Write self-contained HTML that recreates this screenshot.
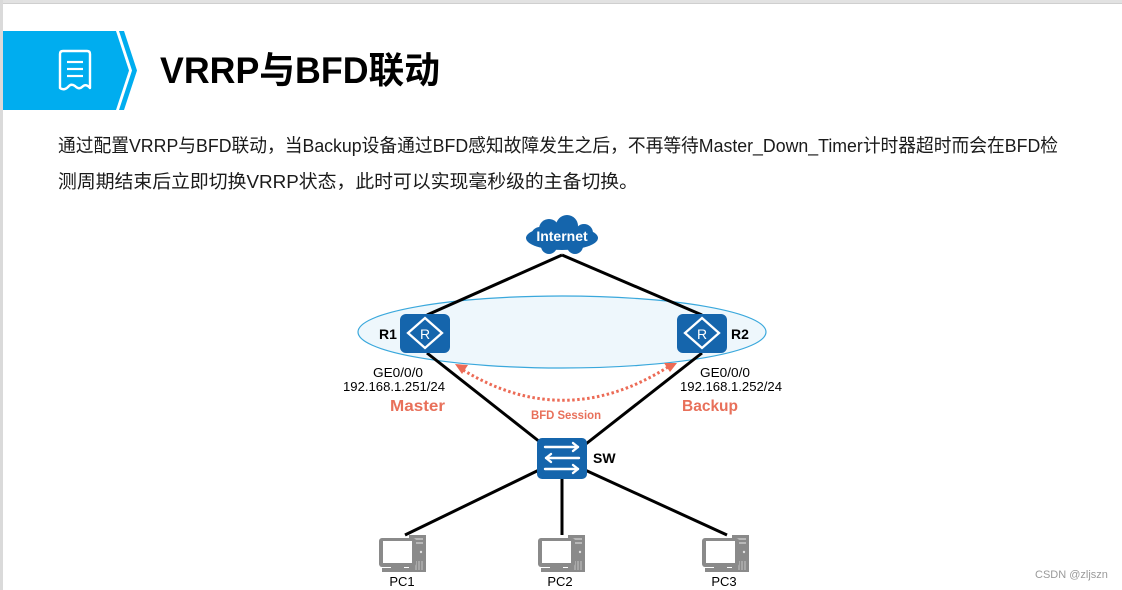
<!DOCTYPE html>
<html><head><meta charset="utf-8"><style>
html,body{margin:0;padding:0;background:#fff;}
svg{display:block;}
</style></head><body>
<svg width="1122" height="590" viewBox="0 0 1122 590" xmlns="http://www.w3.org/2000/svg">
<rect x="0" y="0" width="1122" height="590" fill="#ffffff"/>
<rect x="0" y="0" width="1122" height="3" fill="#e2e2e2"/>
<rect x="0" y="3" width="1122" height="1" fill="#cfcfcf"/>
<rect x="0" y="0" width="3" height="590" fill="#dadada"/>

<!-- header banner -->
<polygon points="3,31 116,31 129,70.5 116,110 3,110" fill="#00adef"/>
<polygon points="119,31 124,31 137,70.5 124,110 119,110 132,70.5" fill="#00adef"/>
<!-- doc icon -->
<path d="M60,88 L60,54 Q60,51 63,51 L87,51 Q90,51 90,54 L90,88 Q86,83 82,87 Q79,90 75,86 Q71,83 68,87 Q64,91 60,88 Z" fill="none" stroke="#fff" stroke-width="2.4" stroke-linejoin="round"/>
<line x1="67" y1="62" x2="83" y2="62" stroke="#fff" stroke-width="2.2"/>
<line x1="67" y1="69" x2="83" y2="69" stroke="#fff" stroke-width="2.2"/>
<line x1="67" y1="76" x2="83" y2="76" stroke="#fff" stroke-width="2.2"/>
<text x="160" y="83" font-family="Liberation Sans, Noto Sans CJK SC, sans-serif" font-size="37" font-weight="bold" fill="#000" textLength="280" lengthAdjust="spacingAndGlyphs">VRRP与BFD联动</text>

<!-- paragraph -->
<text x="58" y="152" font-family="Liberation Sans, Noto Sans CJK SC, sans-serif" font-size="18.5" fill="#1a1a1a" textLength="1000" lengthAdjust="spacingAndGlyphs">通过配置VRRP与BFD联动，当Backup设备通过BFD感知故障发生之后，不再等待Master_Down_Timer计时器超时而会在BFD检</text>
<text x="58" y="188" font-family="Liberation Sans, Noto Sans CJK SC, sans-serif" font-size="18.5" fill="#1a1a1a" textLength="580" lengthAdjust="spacingAndGlyphs">测周期结束后立即切换VRRP状态，此时可以实现毫秒级的主备切换。</text>

<!-- ellipse VRRP group -->
<ellipse cx="562" cy="332" rx="204" ry="36" fill="#eef7fc" stroke="#3aa8dc" stroke-width="1.2"/>

<!-- links -->
<g stroke="#000" stroke-width="3" fill="none">
<line x1="562" y1="255" x2="427" y2="315"/>
<line x1="562" y1="255" x2="702" y2="315"/>
<line x1="427" y1="353" x2="545" y2="446"/>
<line x1="702" y1="353" x2="582" y2="447"/>
<line x1="539" y1="470" x2="405" y2="535"/>
<line x1="562" y1="478" x2="562" y2="535"/>
<line x1="585" y1="470" x2="727" y2="535"/>
</g>

<!-- cloud -->
<g fill="#1565ac">
<ellipse cx="562" cy="238" rx="36" ry="12"/>
<circle cx="549" cy="229" r="10"/>
<circle cx="567" cy="226" r="11"/>
<circle cx="584" cy="233" r="9"/>
<circle cx="540" cy="236" r="9"/>
<circle cx="549" cy="246" r="8"/>
<circle cx="575" cy="246" r="8"/>
</g>
<text x="562" y="241" text-anchor="middle" font-family="Liberation Sans, sans-serif" font-size="14" font-weight="bold" fill="#fff">Internet</text>

<!-- R1 -->
<rect x="400" y="314" width="50" height="39" rx="6" fill="#1565ac"/>
<path d="M425,318 L442,333 L425,348 L408,333 Z" fill="none" stroke="#fff" stroke-width="2.3"/>
<text x="425" y="339" text-anchor="middle" font-family="Liberation Sans, sans-serif" font-size="14" fill="#fff">R</text>
<text x="379" y="339" font-family="Liberation Sans, sans-serif" font-size="14" font-weight="bold" fill="#000">R1</text>

<!-- R2 -->
<rect x="677" y="314" width="50" height="39" rx="6" fill="#1565ac"/>
<path d="M702,318 L719,333 L702,348 L685,333 Z" fill="none" stroke="#fff" stroke-width="2.3"/>
<text x="702" y="339" text-anchor="middle" font-family="Liberation Sans, sans-serif" font-size="14" fill="#fff">R</text>
<text x="731" y="339" font-family="Liberation Sans, sans-serif" font-size="14" font-weight="bold" fill="#000">R2</text>

<!-- labels -->
<g font-family="Liberation Sans, sans-serif" font-size="13" fill="#000">
<text x="373" y="377" textLength="50" lengthAdjust="spacingAndGlyphs">GE0/0/0</text>
<text x="343" y="391" textLength="102" lengthAdjust="spacingAndGlyphs">192.168.1.251/24</text>
<text x="700" y="377" textLength="50" lengthAdjust="spacingAndGlyphs">GE0/0/0</text>
<text x="680" y="391" textLength="102" lengthAdjust="spacingAndGlyphs">192.168.1.252/24</text>
</g>
<g font-family="Liberation Sans, sans-serif" font-weight="bold" fill="#e8705a">
<text x="390" y="411" font-size="16" textLength="55" lengthAdjust="spacingAndGlyphs">Master</text>
<text x="682" y="411" font-size="16" textLength="56" lengthAdjust="spacingAndGlyphs">Backup</text>
<text x="531" y="419" font-size="12" textLength="70" lengthAdjust="spacingAndGlyphs">BFD Session</text>
</g>

<!-- BFD dotted arc -->
<path d="M463,370 Q565,432 668,367" fill="none" stroke="#ec6b56" stroke-width="3" stroke-dasharray="2.5 2.5"/>
<polygon points="455,364 468,365 462,374" fill="#ec6b56"/>
<polygon points="677,363 664,363 670,372" fill="#ec6b56"/>

<!-- switch -->
<rect x="537" y="438" width="50" height="41" rx="5" fill="#1565ac"/>
<g stroke="#fff" stroke-width="2.4" fill="none" stroke-linecap="round" stroke-linejoin="round">
<line x1="545" y1="447" x2="578" y2="447"/>
<polyline points="573,443 578,447 573,451"/>
<line x1="546" y1="458" x2="579" y2="458"/>
<polyline points="551,454 546,458 551,462"/>
<line x1="545" y1="469" x2="578" y2="469"/>
<polyline points="573,465 578,469 573,473"/>
</g>
<text x="593" y="463" font-family="Liberation Sans, sans-serif" font-size="14" font-weight="bold" fill="#000">SW</text>

<!-- PCs -->
<defs>
<g id="pc">
<rect x="30" y="0" width="17" height="37" fill="#8a8a8a"/>
<rect x="33" y="3" width="11" height="2" fill="#b8b8b8"/>
<rect x="33" y="7" width="11" height="2" fill="#b8b8b8"/>
<circle cx="42" cy="17" r="1.2" fill="#e0e0e0"/>
<g stroke="#c4c4c4" stroke-width="1"><line x1="37" y1="26" x2="37" y2="35"/><line x1="40" y1="26" x2="40" y2="35"/><line x1="43" y1="26" x2="43" y2="35"/></g>
<rect x="0" y="3" width="37" height="29" rx="3" fill="#8a8a8a"/>
<rect x="4" y="6" width="29" height="22" fill="#ffffff"/>
<rect x="12" y="31" width="13" height="3" fill="#8a8a8a"/>
<rect x="3" y="33" width="33" height="4" fill="#8a8a8a"/>
</g>
</defs>
<use href="#pc" x="379" y="535"/>
<use href="#pc" x="538" y="535"/>
<use href="#pc" x="702" y="535"/>
<g font-family="Liberation Sans, sans-serif" font-size="13" fill="#000" text-anchor="middle">
<text x="402" y="586">PC1</text>
<text x="560" y="586">PC2</text>
<text x="724" y="586">PC3</text>
</g>

<!-- watermark -->
<text x="1035" y="578" font-family="Liberation Sans, sans-serif" font-size="11" fill="#9a9a9a">CSDN @zljszn</text>
</svg>
</body></html>
